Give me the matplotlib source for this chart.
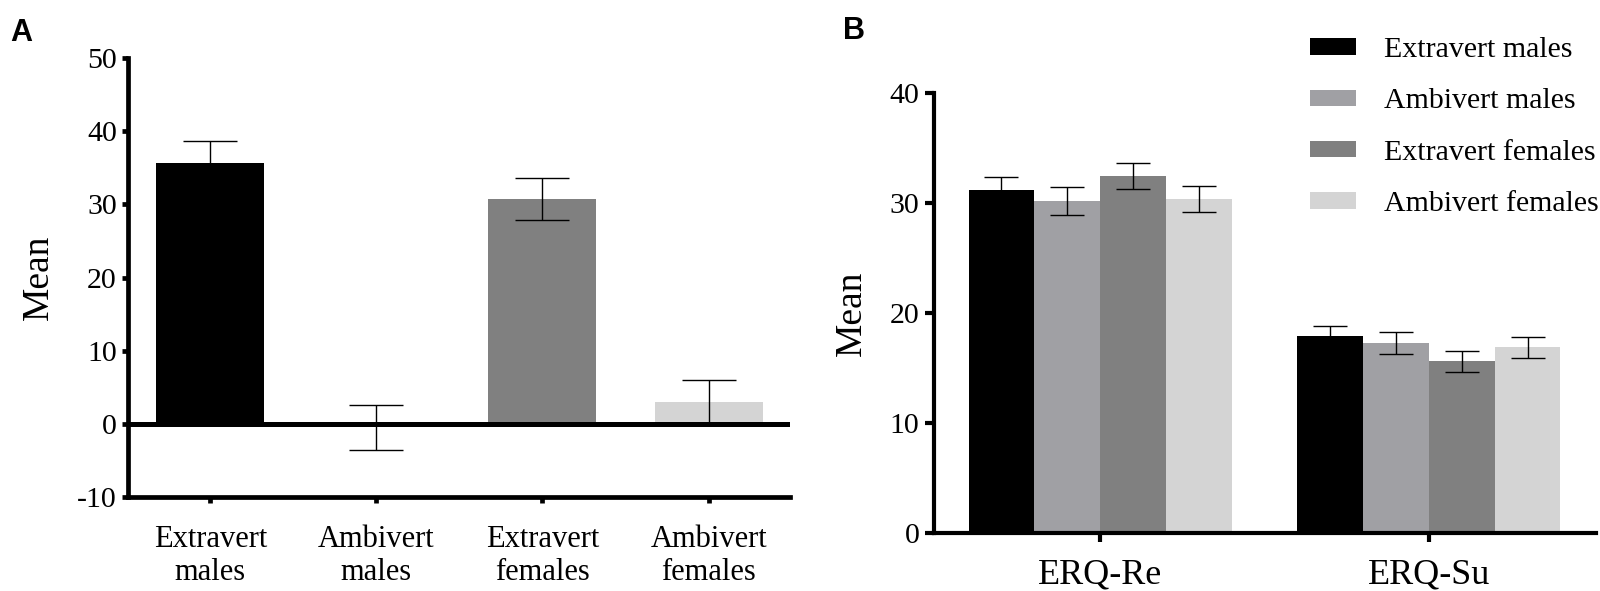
import matplotlib
matplotlib.use("Agg")
import matplotlib.pyplot as plt
import numpy as np

# ---------------- data ----------------
groups_a = ["Extravert\nmales", "Ambivert\nmales", "Extravert\nfemales", "Ambivert\nfemales"]
means_a = [35.6, -0.5, 30.75, 3.0]
errs_a = [3.0, 3.05, 2.85, 3.0]

series_b = ["Extravert males", "Ambivert males", "Extravert females", "Ambivert females"]
cats_b = ["ERQ-Re", "ERQ-Su"]
means_b = {
    "Extravert males": [31.15, 17.9],
    "Ambivert males": [30.2, 17.25],
    "Extravert females": [32.45, 15.6],
    "Ambivert females": [30.35, 16.9],
}
errs_b = {
    "Extravert males": [1.2, 0.96],
    "Ambivert males": [1.25, 0.98],
    "Extravert females": [1.17, 0.93],
    "Ambivert females": [1.17, 0.96],
}
yticks_a = [-10, 0, 10, 20, 30, 40, 50]
yticks_b = [0, 10, 20, 30, 40]

colors = ["#000000", "#a0a0a4", "#808080", "#d4d4d4"]

plt.rcParams['font.family'] = ['Liberation Serif', 'DejaVu Serif']

fig = plt.figure(figsize=(16, 5.91), dpi=100)

# ---------------- Panel A ----------------
axA = fig.add_axes([0.08, 0.15905, 0.41375, 0.7428])
xa = np.arange(len(groups_a))
axA.bar(xa, means_a, width=0.65, color=colors, zorder=2)
axA.errorbar(xa, means_a, yerr=errs_a, fmt='none', ecolor='black',
             elinewidth=1.0, capsize=19.5, capthick=1.0, zorder=3)
axA.axhline(0, color='black', lw=3.6, zorder=4)
axA.set_xlim(-0.495, 3.49)
axA.set_ylim(-10, 50)
axA.set_yticks(yticks_a)
axA.set_yticklabels([str(v) for v in yticks_a])
axA.set_xticks(xa)
axA.set_xticklabels(groups_a)
for lbl in axA.get_xticklabels():
    lbl.set_linespacing(1.2)
for s in ['top', 'right']:
    axA.spines[s].set_visible(False)
for s in ['left', 'bottom']:
    axA.spines[s].set_linewidth(3.4)
axA.tick_params(axis='y', length=4, width=3.4, labelsize=21.5, pad=4)
axA.tick_params(axis='x', length=4, width=3.4, labelsize=22, pad=16)
axA.set_ylabel("Mean", fontsize=27, labelpad=15)

# ---------------- Panel B ----------------
axB = fig.add_axes([0.58375, 0.09814, 0.41375, 0.7445])
xb = np.arange(len(cats_b))
w = 0.2
for i, s in enumerate(series_b):
    pos = xb + (i - 1.5) * w
    axB.bar(pos, means_b[s], width=w, color=colors[i], label=s, zorder=2)
    axB.errorbar(pos, means_b[s], yerr=errs_b[s], fmt='none', ecolor='black',
                 elinewidth=1.0, capsize=12, capthick=1.0, zorder=3)
axB.set_xlim(-0.505, 1.508)
axB.set_ylim(0, 40)
axB.set_yticks(yticks_b)
axB.set_yticklabels([str(v) for v in yticks_b])
axB.set_xticks(xb)
axB.set_xticklabels(cats_b)
for s in ['top', 'right']:
    axB.spines[s].set_visible(False)
for s in ['left', 'bottom']:
    axB.spines[s].set_linewidth(3.0)
axB.tick_params(axis='y', length=6.5, width=3.0, labelsize=21.5, pad=4)
axB.tick_params(axis='x', length=6.5, width=3.0, labelsize=26, pad=12)
axB.set_ylabel("Mean", fontsize=27, labelpad=15)

leg = axB.legend(loc='upper left', bbox_to_anchor=(1310 / 1600, 1 - 37 / 591),
                 bbox_transform=fig.transFigure, frameon=False, fontsize=21.5,
                 handlelength=1.54, handleheight=0.47, handletextpad=0.93,
                 labelspacing=0.85, borderpad=0, borderaxespad=0)

# panel letters
fig.text(10 / 1600, 1 - 33 / 591, "A", fontsize=22, fontweight='bold',
         family=['Liberation Sans', 'DejaVu Sans'], va='center', ha='left')
fig.text(843 / 1600, 1 - 31 / 591, "B", fontsize=22, fontweight='bold',
         family=['Liberation Sans', 'DejaVu Sans'], va='center', ha='left')

fig.savefig("out.png", dpi=100)
